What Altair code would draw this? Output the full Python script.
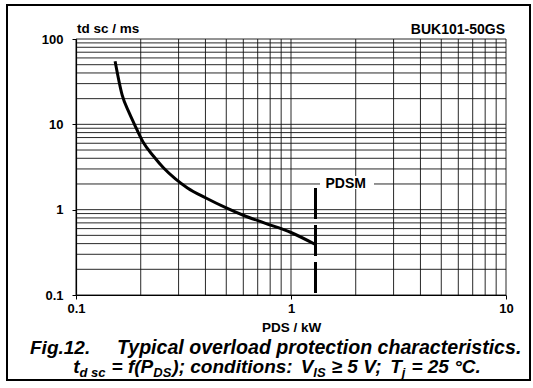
import altair as alt
import pandas as pd

# ---- data ----
p_ds = [0.152, 0.164, 0.177, 0.187, 0.205, 0.23, 0.255, 0.29, 0.33, 0.4, 0.5, 0.6, 0.75, 1.0, 1.3]
t_dsc = [55, 22, 13.5, 10, 6.2, 4.2, 3.1, 2.3, 1.8, 1.38, 1.05, 0.86, 0.7, 0.54, 0.39]
pdsm_x = [1.3]
pdsm_top = [1.8]
x_ticks = [0.1, 1, 10]
y_ticks = [0.1, 1, 10, 100]
grid_x = [0.1, 0.2, 0.3, 0.4, 0.5, 0.6, 0.7, 0.8, 0.9,
          1, 2, 3, 4, 5, 6, 7, 8, 9, 10]
grid_y = [0.1, 0.2, 0.3, 0.4, 0.5, 0.6, 0.7, 0.8, 0.9,
          1, 2, 3, 4, 5, 6, 7, 8, 9,
          10, 20, 30, 40, 50, 60, 70, 80, 90, 100]

W, H = 430, 256
FONT = "Liberation Sans"

xs = alt.Scale(type="log", domain=[0.1, 10])
ys = alt.Scale(type="log", domain=[0.1, 100])

x_axis = alt.Axis(
    values=x_ticks, format="~g", grid=False, tickSize=4, tickColor="black",
    domainColor="black", domainWidth=1.2, labelFont=FONT, labelFontSize=13,
    labelFontWeight="bold", labelColor="black", labelPadding=3, labelFlush=False,
    title="PDS / kW", titleFont=FONT, titleFontSize=13.5, titleFontWeight="bold",
    titleColor="black", titlePadding=5, zindex=2)
y_axis = alt.Axis(
    values=y_ticks, format="~g", grid=False, tickSize=4, tickColor="black",
    domainColor="black", domainWidth=1.2, labelFont=FONT, labelFontSize=13,
    labelFontWeight="bold", labelColor="black", labelPadding=9, labelFlush=False,
    title=None, zindex=2)

one = alt.Data(values=[{}])

border = alt.Chart(one).mark_rect(fill="white", fillOpacity=0, stroke="black",
                                  strokeWidth=2).encode(
    x=alt.value(-69), x2=alt.value(454), y=alt.value(-34), y2=alt.value(341))

gx = alt.Chart(pd.DataFrame({"gx": grid_x})).mark_rule(color="#111", strokeWidth=0.9).encode(
    x=alt.X("gx:Q", scale=xs, axis=x_axis))
gy = alt.Chart(pd.DataFrame({"gy": grid_y})).mark_rule(color="#111", strokeWidth=0.9).encode(
    y=alt.Y("gy:Q", scale=ys, axis=y_axis))

curve = alt.Chart(pd.DataFrame({"p": p_ds, "t": t_dsc})).mark_line(
    color="black", strokeWidth=3, interpolate="monotone").encode(
    x=alt.X("p:Q", scale=xs, axis=x_axis),
    y=alt.Y("t:Q", scale=ys, axis=y_axis),
    order=alt.Order("p:Q"))

pdsm_bg = alt.Chart(one).mark_rect(fill="white").encode(
    x=alt.value(244), x2=alt.value(298), y=alt.value(137), y2=alt.value(150))
pdsm_df = pd.DataFrame({"x": pdsm_x, "top": pdsm_top, "bot": [0.1], "ly": [2.0], "lab": ["PDSM"]})
pdsm_txt = alt.Chart(pdsm_df).mark_text(
    align="left", baseline="middle", dx=10, font=FONT, fontSize=14, fontWeight="bold",
    color="black").encode(
    x=alt.X("x:Q", scale=xs, axis=x_axis), y=alt.Y("ly:Q", scale=ys, axis=y_axis), text="lab:N")
pdsm_rule = alt.Chart(pdsm_df).mark_rule(
    color="black", strokeWidth=3, strokeDash=[31, 6]).encode(
    x=alt.X("x:Q", scale=xs, axis=x_axis), y=alt.Y("top:Q", scale=ys, axis=y_axis), y2="bot:Q")


def txt(s, x, y, size, align="left", weight="bold", style="normal"):
    return alt.Chart(one).mark_text(
        text=s, align=align, baseline="alphabetic", font=FONT, fontSize=size,
        fontWeight=weight, fontStyle=style, color="black").encode(
        x=alt.value(x), y=alt.value(y))


texts = [
    txt("td sc / ms", 1, -6, 13.5),
    txt("BUK101-50GS", 429, -5, 14, align="right"),
    txt("Fig.12.", -46, 315, 19, style="italic"),
    txt("Typical overload protection characteristics.", 41, 315, 19.6, style="italic"),
]

# caption line 2 with subscripts (Arial-bold advance widths, per 1000 em)
AW = {' ': 278, 't': 333, 'd': 611, 's': 556, 'c': 556, '=': 584, 'f': 333, '(': 333,
      'P': 667, 'D': 722, 'S': 667, ')': 333, ';': 333, 'o': 611, 'n': 611, 'i': 278,
      ':': 333, 'V': 667, 'I': 278, '≥': 549, '5': 556, 'T': 611, 'j': 278, '2': 556,
      '°': 400, 'C': 722, '.': 278}
# (text, kind): kind "m" main text, "s" subscript, "g" gap in px
segs = [("t", "m"), ("d sc", "s"), (6, "g"), ("= f(P", "m"), ("DS", "s"), (1, "g"),
        ("); conditions:", "m"), (8, "g"), ("V", "m"), ("IS", "s"), (6, "g"),
        ("≥ 5 V;", "m"), (8, "g"), ("T", "m"), ("j", "s"), (6, "g"), ("= 25 °C.", "m")]
MAIN, SUB = 19, 13


def seg_w(s, k):
    if k == "g":
        return s
    return sum(AW.get(ch, 556) for ch in s) / 1000 * (SUB if k == "s" else MAIN)


total = sum(seg_w(s, k) for s, k in segs)
cx = 277 - 76
x0 = cx - total / 2
for s, k in segs:
    if k != "g":
        texts.append(txt(s, x0, 338 if k == "s" else 334, SUB if k == "s" else MAIN,
                         style="italic"))
    x0 += seg_w(s, k)

chart = alt.layer(border, gx, gy, curve, pdsm_bg, pdsm_rule, pdsm_txt, *texts).properties(
    width=W, height=H, autosize="none",
    padding={"left": 76, "top": 39, "right": 27, "bottom": 93},
    background="white",
).configure_view(stroke=None)

chart.save("out.html", embed_options={"renderer": "svg", "actions": False})
